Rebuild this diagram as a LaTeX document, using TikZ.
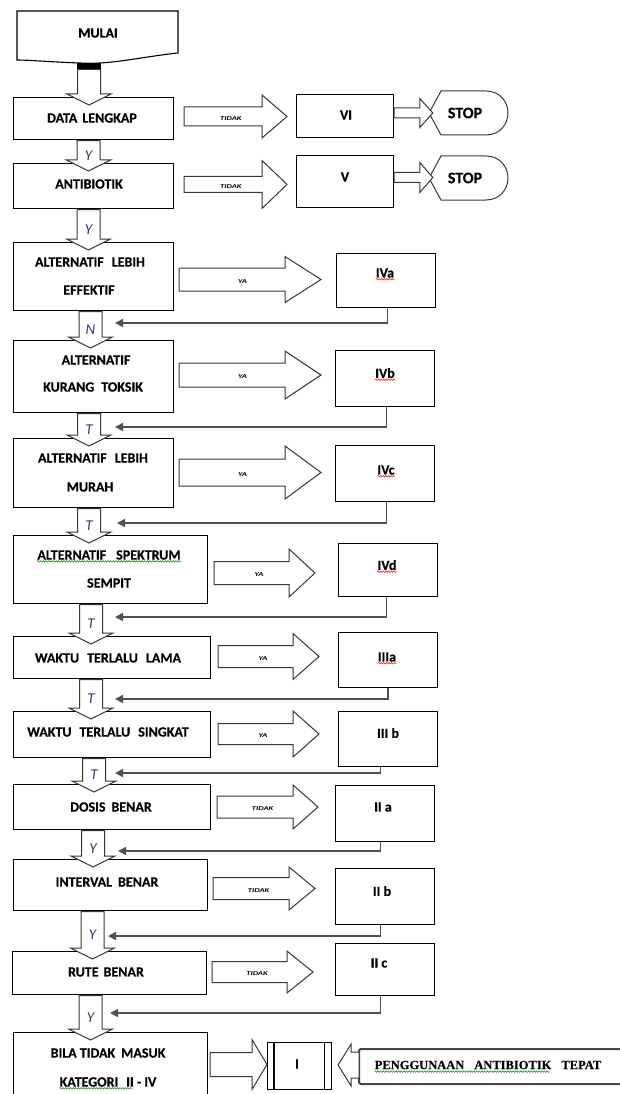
\documentclass[tikz,border=0pt]{standalone}
\usepackage{fontspec}
\setmainfont{Carlito}[BoldFeatures={FakeBold=0.4}]
\newfontfamily\timesb{Liberation Serif}[BoldFeatures={FakeBold=0.3}]
\usetikzlibrary{arrows.meta,calc,decorations.pathmorphing}
\definecolor{lblc}{RGB}{50,60,105}
\definecolor{edgec}{RGB}{55,55,55}
\definecolor{retc}{RGB}{80,80,80}
\tikzset{
  box/.style={draw=black, line width=1.1pt, fill=white, inner sep=0pt, anchor=north west},
  lab/.style={font=\bfseries\fontsize{14}{16}\selectfont, inner sep=0pt},
  blk/.style={draw=edgec, line width=1pt, fill=white, line join=miter},
  yn/.style={font=\itshape\fontsize{15}{15}\selectfont, text=lblc, inner sep=0pt},
  tag/.style={font=\bfseries\itshape\fontsize{8.5}{9}\selectfont, inner sep=0pt},
  ret/.style={draw=retc, line width=1.6pt, -{Triangle[length=8pt,width=8pt]}},
  redwave/.style={draw=red, line width=0.5pt, decorate, decoration={snake, amplitude=0.8pt, segment length=2.6pt}},
  greenwave/.style={draw=green!55!black, line width=0.5pt, decorate, decoration={snake, amplitude=0.8pt, segment length=2.6pt}},
}
% box: name, x, y (top-left, y downward), width, height
\newcommand\bx[5]{\node[box, minimum width=#4pt, minimum height=#5pt] (#1) at (#2,#3) {};}
% vertical block arrow: top point, bottom point, x centre, label, label name
\newcommand\varrow[5]{%
  \path[blk] let \p1=(#1), \p2=(#2) in
    ({(#3-11.5)*1pt},{\y1-0.5pt}) -- ({(#3-11.5)*1pt},{\y2+3pt}) -- ({(#3-22)*1pt},{\y2+3pt})
    -- ({#3*1pt},{\y2-8pt}) -- ({(#3+22)*1pt},{\y2+3pt}) -- ({(#3+11.5)*1pt},{\y2+3pt})
    -- ({(#3+11.5)*1pt},{\y1-0.5pt}) -- cycle;
  \path let \p1=(#1), \p2=(#2) in node[yn] (#5) at ({#3*1pt},{(\y1+\y2)/2-4pt}) {#4};}
% horizontal block arrow: from node, to node, start gap, end gap, y centre, shaft half, head half, head length, label
\newcommand\harrow[9]{%
  \path[blk] let \p1=(#1.east), \p2=(#2.west) in
    ({\x1+#3pt},{-(#5-#6)*1pt}) -- ({\x2-#4pt-#8pt},{-(#5-#6)*1pt}) -- ({\x2-#4pt-#8pt},{-(#5-#7)*1pt})
    -- ({\x2-#4pt},{-#5*1pt}) -- ({\x2-#4pt-#8pt},{-(#5+#7)*1pt}) -- ({\x2-#4pt-#8pt},{-(#5+#6)*1pt})
    -- ({\x1+#3pt},{-(#5+#6)*1pt}) -- cycle;
  \path let \p1=(#1.east), \p2=(#2.west) in
    node[tag] (#1tag) at ({\x1+#3pt+0.6*(\x2-#4pt-#8pt-\x1-#3pt)},{-(#5+2)*1pt}) {\scalebox{1}[0.7]{#9}};}
% STOP display shape: name, y centre
\newcommand\stopshape[2]{%
  \draw[line width=1pt, draw=edgec, fill=white] (441,#2-22) -- (486,#2-22) .. controls (500,#2-22) and (508,#2-11) .. (508,#2)
    .. controls (508,#2+11) and (500,#2+22) .. (486,#2+22) -- (441,#2+22) -- (429,#2) -- cycle;
  \node[inner sep=0pt, minimum width=80pt, minimum height=44pt, font=\bfseries\fontsize{16}{16}\selectfont] (#1) at (468,#2) {\hspace{-6pt}STOP};}
\begin{document}
\begin{tikzpicture}[x=1pt,y=-1pt]
\useasboundingbox (0,0) rectangle (620,1094);

% ---------- start ----------
\draw[line width=1.1pt, fill=white] (17,11) -- (178,11) -- (178,53) .. controls (140,57) and (110,65) .. (80,63)
   .. controls (50,62) and (30,60) .. (17,60) -- cycle;
\node[lab] (mulai) at (98,33) {MULAI};
\coordinate (mulaibot) at (89,69);
\fill (77,63) rectangle (101,69);

% ---------- boxes ----------
\bx{data}{13}{97}{160}{42}
\bx{vi}{296}{94}{97}{43}
\bx{anti}{13}{163}{160}{45}
\bx{v}{296}{155}{97}{52}
\bx{alta}{13}{242}{160}{68}
\bx{iva}{336}{253}{99}{54}
\bx{altb}{13}{340}{160}{72}
\bx{ivb}{335}{350}{99}{56}
\bx{altc}{13}{438}{160}{69}
\bx{ivc}{335}{445}{99}{56}
\bx{altd}{13}{535}{194}{68}
\bx{ivd}{338}{543}{99}{53}
\bx{wa}{13}{636}{197}{42}
\bx{iiia}{338}{632}{99}{55}
\bx{wb}{13}{711}{197}{46}
\bx{iiib}{338}{711}{99}{55}
\bx{dosis}{13}{784}{197}{45}
\bx{iia}{335}{785}{99}{56}
\bx{intv}{13}{859}{194}{51}
\bx{iib}{335}{868}{99}{56}
\bx{rute}{12}{951}{194}{43}
\bx{iic}{335}{943}{99}{52}
\bx{bila}{13}{1032}{194}{70}
\bx{ibox}{267}{1042}{64}{47}
\draw[line width=1.1pt] ([xshift=7pt]ibox.north west) -- ([xshift=7pt]ibox.south west);
\draw[line width=1.1pt] ([xshift=-8pt]ibox.north east) -- ([xshift=-8pt]ibox.south east);
\node[box, draw=gray!55!black, line width=2pt, rounded corners=2pt, minimum width=275pt, minimum height=35pt] (peng) at (358,1048) {};

\stopshape{stopa}{113}
\stopshape{stopb}{178}

% ---------- texts ----------
\node[lab] (datat) at (92,118) {DATA\hspace{5pt}LENGKAP};
\node[lab] (vit) at (346,115) {VI};
\node[lab] (antit) at (89,184) {ANTIBIOTIK};
\node[lab] (vt) at (345,177) {V};
\node[lab] (alta1) at (90,262) {ALTERNATIF\hspace{8pt}LEBIH};
\node[lab] (alta2) at (89,290) {EFFEKTIF};
\node[lab] (altb1) at (96,360) {ALTERNATIF};
\node[lab] (altb2) at (93,387) {KURANG\hspace{7pt}TOKSIK};
\node[lab] (altc1) at (93,458) {ALTERNATIF\hspace{8pt}LEBIH};
\node[lab] (altc2) at (90,487) {MURAH};
\node[lab] (altd1) at (109,555) {ALTERNATIF\hspace{10pt}SPEKTRUM};
\node[lab] (altd2) at (109,583) {SEMPIT};
\node[lab] (wat) at (108,658) {WAKTU\hspace{8pt}TERLALU\hspace{8pt}LAMA};
\node[lab] (wbt) at (108,732) {WAKTU\hspace{8pt}TERLALU\hspace{8pt}SINGKAT};
\node[lab] (dosist) at (111,807) {DOSIS\hspace{6pt}BENAR};
\node[lab] (intvt) at (107,882) {INTERVAL\hspace{6pt}BENAR};
\node[lab] (rutet) at (106,972) {RUTE\hspace{5pt}BENAR};
\node[lab] (bila1) at (108,1053) {BILA TIDAK\hspace{6pt}MASUK};
\node[lab] (bila2) at (108,1082) {KATEGORI\hspace{8pt}II - IV};
\node[lab] (ivat) at (385,273) {IVa};
\node[lab] (ivbt) at (385,373) {IVb};
\node[lab] (ivct) at (386,470) {IVc};
\node[lab] (ivdt) at (387,565) {IVd};
\node[lab] (iiiat) at (387,657) {IIIa};
\node[lab] (iiibt) at (388,733) {III b};
\node[lab] (iiat) at (383,807) {II a};
\node[lab] (iibt) at (382,891) {II b};
\node[lab] (iict) at (379,963) {II c};
\node[lab] (it) at (297,1064) {I};
\node[inner sep=0pt, font=\timesb\bfseries\fontsize{12.5}{13}\selectfont] (pengt) at (488,1065) {PENGGUNAAN\hspace{10pt}ANTIBIOTIK\hspace{10pt}TEPAT};

% spelling marks
\foreach \t in {ivat,ivbt,ivct,ivdt,iiiat}
  \draw[redwave] ([yshift=-1.5pt]\t.south west) -- ([yshift=-1.5pt]\t.south east);
\draw[greenwave] ([yshift=-1.5pt]altd1.south west) -- ([yshift=-1.5pt]altd1.south east);
\draw[greenwave] ([yshift=-1.5pt]bila2.south west) -- ([yshift=-1.5pt,xshift=-24pt]bila2.south east);
\draw[greenwave] ([yshift=-2.5pt]pengt.base west) -- ([yshift=-2.5pt,xshift=-52pt]pengt.base east);

% ---------- vertical block arrows ----------
\varrow{mulaibot}{data.north}{89}{}{lmulai}
\varrow{data.south}{anti.north}{88.5}{Y}{ly1}
\varrow{anti.south}{alta.north}{88.5}{Y}{ly2}
\varrow{alta.south}{altb.north}{90.5}{N}{ln1}
\varrow{altb.south}{altc.north}{89}{T}{lt1}
\varrow{altc.south}{altd.north}{89}{T}{lt2}
\varrow{altd.south}{wa.north}{91}{T}{lt3}
\varrow{wa.south}{wb.north}{91}{T}{lt4}
\varrow{wb.south}{dosis.north}{94}{T}{lt5}
\varrow{dosis.south}{intv.north}{93}{Y}{ly3}
\varrow{intv.south}{rute.north}{92.5}{Y}{ly4}
\varrow{rute.south}{bila.north}{90.5}{Y}{ly5}

% ---------- horizontal block arrows ----------
\harrow{data}{vi}{10}{9}{116.5}{9.5}{21.5}{25}{TIDAK}
\harrow{anti}{v}{10}{9}{184.5}{8}{24}{25}{TIDAK}
\harrow{vi}{stopa}{0}{-5}{113}{5}{14.5}{13}{}
\harrow{v}{stopb}{0}{-5}{177.5}{5}{15}{13}{}
\harrow{alta}{iva}{5}{15}{279.5}{11.5}{23}{36}{YA}
\harrow{altb}{ivb}{5}{14}{375}{12}{24}{36}{YA}
\harrow{altc}{ivc}{5}{14}{472.5}{13.5}{26.5}{36}{YA}
\harrow{altd}{ivd}{6}{23}{573}{11.5}{24}{26}{YA}
\harrow{wa}{iiia}{7}{19}{656.5}{11}{23}{26}{YA}
\harrow{wb}{iiib}{7}{19}{734}{10.5}{23}{26}{YA}
\harrow{dosis}{iia}{6}{17}{807}{11}{22}{25}{TIDAK}
\harrow{intv}{iib}{5}{20}{888.5}{11}{21.5}{26}{TIDAK}
\harrow{rute}{iic}{5}{22}{972}{10.5}{21}{26}{TIDAK}
\harrow{bila}{ibox}{2}{0}{1064.5}{12}{25}{15}{}
% leftward arrow from peng to ibox
\path[blk] let \p1=(peng.west), \p2=(ibox.east) in
  ({\x1+1pt},{-1052pt}) -- ({\x2+19pt},{-1052pt}) -- ({\x2+19pt},{-1044pt}) -- ({\x2+6pt},{-1065pt})
  -- ({\x2+19pt},{-1086pt}) -- ({\x2+19pt},{-1078pt}) -- ({\x1+1pt},{-1078pt}) -- cycle;

% ---------- return connectors ----------
\coordinate (ra) at (115,323);
\coordinate (rb) at (115,427);
\coordinate (rc) at (117,523);
\coordinate (rd) at (115,617);
\coordinate (re) at (115,699);
\coordinate (rf) at (115,773);
\coordinate (rg) at (118,851);
\coordinate (rh) at (108,936);
\coordinate (ri) at (110,1013);
\draw[ret] ([xshift=1.5pt]iva.south) |- (ra);
\draw[ret] ([xshift=1.5pt]ivb.south) |- (rb);
\draw[ret] ([xshift=1.5pt]ivc.south) |- (rc);
\draw[ret] ([xshift=-1.5pt]ivd.south) |- (rd);
\draw[ret] (iiia.south) |- (re);
\draw[ret] ([xshift=-7.5pt]iiib.south) |- (rf);
\draw[ret] ([xshift=-4.5pt]iia.south) |- (rg);
\draw[ret] ([xshift=-4.5pt]iib.south) |- (rh);
\draw[ret] ([xshift=-4.5pt]iic.south) |- (ri);
\end{tikzpicture}
\end{document}
